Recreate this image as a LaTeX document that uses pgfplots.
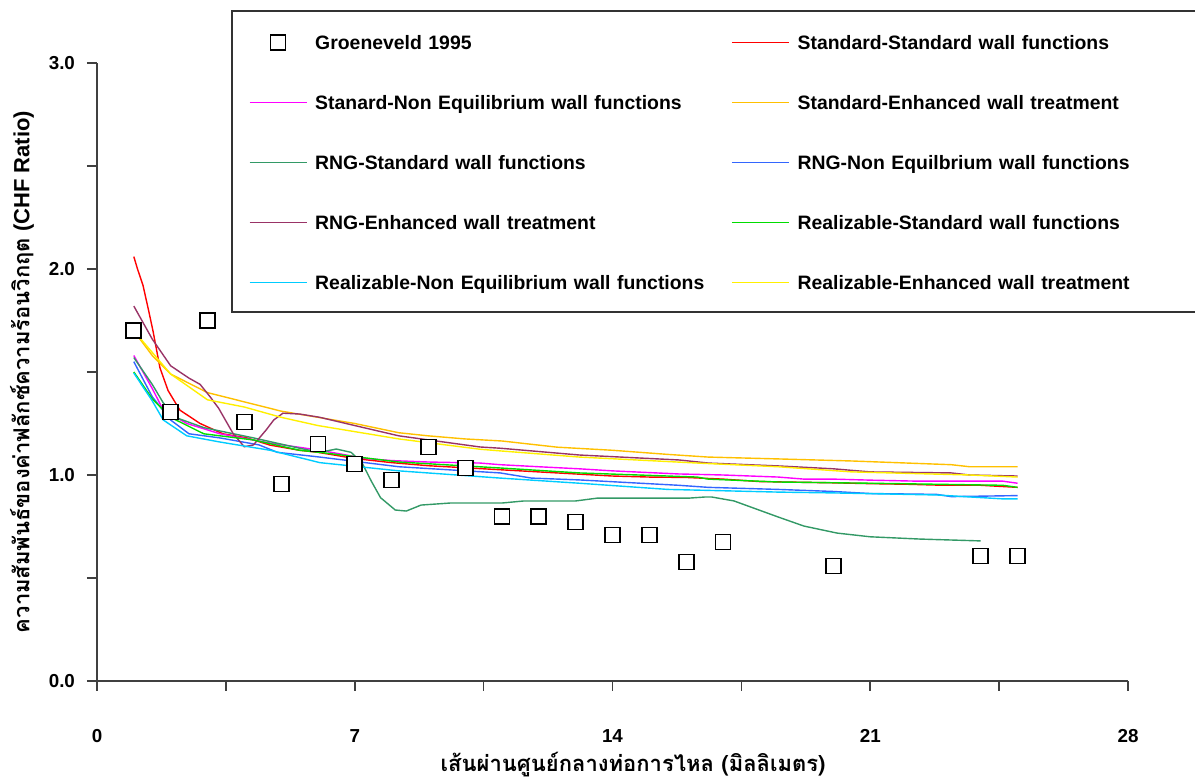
\documentclass[border=0pt]{standalone}
\usepackage{fontspec}
\setmainfont{Liberation Sans}
\newfontfamily\thaifont[Script=Thai]{Loma}
\usepackage{pgfplots}
\pgfplotsset{compat=1.18}

\definecolor{cStdStd}{HTML}{FF0000}
\definecolor{cStdNon}{HTML}{FF00FF}
\definecolor{cStdEnh}{HTML}{FFC000}
\definecolor{cRngStd}{HTML}{339966}
\definecolor{cRngNon}{HTML}{3366FF}
\definecolor{cRngEnh}{HTML}{993366}
\definecolor{cRlzStd}{HTML}{00DD00}
\definecolor{cRlzNon}{HTML}{00CCFF}
\definecolor{cRlzEnh}{HTML}{FFF000}

\begin{document}
\begin{tikzpicture}
\begin{axis}[
    at={(48.5pt,50pt)}, anchor=south west,
    scale only axis, width=515.5pt, height=309pt,
    xmin=0, xmax=28, ymin=0, ymax=3,
    axis lines=left,
    axis line style={-, black!75, line width=0.8pt},
    xtick={0,7,14,21,28}, ytick={0,1,2,3},
    minor xtick={3.5,10.5,17.5,24.5}, minor ytick={0.5,1.5,2.5},
    tick align=outside, major tick length=5pt, minor tick length=5pt,
    tick style={black!75, line width=0.8pt},
    /pgf/number format/assume math mode=true,
    tick label style={font=\bfseries\fontsize{9.4}{11}\selectfont},
    yticklabel style={/pgf/number format/fixed, /pgf/number format/fixed zerofill, /pgf/number format/precision=1, xshift=-2.5pt},
    xticklabel style={yshift=-15.75pt},
    xlabel={\thaifont\bfseries เส้นผ่านศูนย์กลางท่อการไหล (มิลลิเมตร)},
    xlabel style={at={(axis description cs:0.52,-0.136)}, anchor=center, font=\fontsize{11}{13}\selectfont},
    ylabel={{\thaifont\bfseries ความสัมพันธ์ของค่าฟลักซ์ความร้อนวิกฤต} \textbf{(CHF Ratio)}},
    ylabel style={at={(axis description cs:-0.0727,0.5)}, anchor=center, font=\fontsize{11}{13}\selectfont},
    legend columns=2,
    legend image code/.code={\draw[mark repeat=2,mark phase=2,#1] plot coordinates {(0pt,0pt) (14.25pt,0pt) (28.5pt,0pt)};},
    legend image post style={yshift=-0.5pt},
    legend style={at={(0.13,1.0858)}, anchor=north west,
        draw=black!80, line width=0.8pt, fill=white,
        inner xsep=8.5pt, inner ysep=8pt, row sep=15.5pt,
        font=\bfseries\fontsize{9.7}{11}\selectfont,
        nodes={inner sep=0pt, text width=205pt, align=left, text height=11.5pt, text depth=3pt},
        /tikz/every odd column/.append style={column sep=4pt},
        /tikz/every even column/.append style={column sep=3pt}},
    every axis plot/.append style={line width=0.7pt},
]

% legend entry for the measured points (points themselves drawn last, on top)
\addlegendimage{only marks, mark=square*, mark size=3.75pt, mark options={fill=white, draw=black, line width=0.9pt}}
\addlegendentry{Groeneveld 1995}

% Standard-Standard wall functions
\addplot[cStdStd, no marks] coordinates {
 (1,2.06) (1.1,2.0) (1.25,1.92) (1.4,1.80) (1.52,1.70) (1.71,1.52) (1.93,1.41) (2.25,1.315)
 (2.8,1.25) (3.42,1.20) (4.07,1.18) (4.7,1.145) (5.5,1.12) (6,1.11) (7,1.08) (8,1.06)
 (9,1.045) (10,1.035) (11,1.025) (12,1.015) (13,1.005) (14,0.995) (15,0.99) (16,0.988)
 (17,0.98) (18,0.968) (19,0.965) (20,0.962) (21,0.958) (22,0.955) (23,0.95) (24,0.95) (25,0.94)};
\addlegendentry{Standard-Standard wall functions}

% Stanard-Non Equilibrium wall functions
\addplot[cStdNon, no marks] coordinates {
 (1,1.58) (1.5,1.42) (1.8,1.315) (2.44,1.25) (2.8,1.23) (3.34,1.20) (4.7,1.155)
 (6.05,1.12) (7.3,1.08) (8,1.07) (9,1.063) (10.4,1.058) (10.95,1.05) (12,1.04)
 (13.1,1.03) (14,1.02) (15.8,1.005) (17,1.0) (18.5,0.99) (19.2,0.98) (20,0.98)
 (21,0.975) (22.3,0.97) (24.6,0.97) (25,0.96)};
\addlegendentry{Stanard-Non Equilibrium wall functions}

% Standard-Enhanced wall treatment
\addplot[cStdEnh, no marks] coordinates {
 (1,1.70) (1.5,1.58) (2,1.49) (3,1.40) (4,1.355) (5,1.31) (6,1.28) (7,1.25) (8.2,1.205)
 (9,1.19) (10,1.175) (11,1.165) (12.5,1.135) (14,1.12) (15.5,1.10) (16.6,1.087)
 (18.5,1.078) (20.5,1.068) (23.2,1.05) (23.7,1.04) (25,1.04)};
\addlegendentry{Standard-Enhanced wall treatment}

% RNG-Standard wall functions
\addplot[cRngStd, no marks] coordinates {
 (1,1.57) (1.5,1.44) (1.8,1.35) (2.17,1.277) (2.9,1.23) (4.25,1.18) (5.5,1.13)
 (6.05,1.11) (6.5,1.126) (6.9,1.11) (7.2,1.058) (7.45,0.97) (7.7,0.89) (8.1,0.83)
 (8.4,0.825) (8.8,0.854) (9.6,0.864) (11,0.864) (11.6,0.874) (13,0.874) (13.6,0.888)
 (16.1,0.888) (16.5,0.893) (16.7,0.893) (17.3,0.874) (18.5,0.796) (19.2,0.752)
 (20.1,0.718) (21,0.70) (22.35,0.689) (24,0.68)};
\addlegendentry{RNG-Standard wall functions}

% RNG-Non Equilbrium wall functions
\addplot[cRngNon, no marks] coordinates {
 (1,1.55) (1.5,1.38) (2,1.267) (2.5,1.20) (3.34,1.18) (4.4,1.146) (4.9,1.11)
 (6.05,1.087) (8.2,1.04) (10.95,1.01) (11.8,0.985) (13.1,0.976) (15.8,0.95)
 (16.6,0.94) (18.5,0.93) (20,0.92) (21,0.91) (22.8,0.906) (23.2,0.895) (25,0.90)};
\addlegendentry{RNG-Non Equilbrium wall functions}

% RNG-Enhanced wall treatment
\addplot[cRngEnh, no marks] coordinates {
 (1,1.82) (1.5,1.66) (2,1.53) (2.5,1.47) (2.8,1.44) (3.07,1.38) (3.3,1.325) (3.7,1.20)
 (4.0,1.137) (4.25,1.146) (4.6,1.22) (4.8,1.267) (5.05,1.30) (5.5,1.296) (6.05,1.28)
 (7,1.24) (8.2,1.19) (10.4,1.136) (10.95,1.13) (13.1,1.097) (15.8,1.073) (16.6,1.058)
 (18.5,1.044) (20,1.03) (21,1.015) (23.2,1.01) (23.7,1.0) (25,0.995)};
\addlegendentry{RNG-Enhanced wall treatment}

% Realizable-Standard wall functions
\addplot[cRlzStd, no marks] coordinates {
 (1,1.50) (1.5,1.37) (2,1.28) (2.9,1.20) (4.25,1.17) (5.5,1.12) (6.05,1.11)
 (8.2,1.063) (10.95,1.034) (13.1,1.01) (16.3,0.99) (16.6,0.98) (18.5,0.966)
 (21,0.96) (24.6,0.95) (25,0.94)};
\addlegendentry{Realizable-Standard wall functions}

% Realizable-Non Equilibrium wall functions
\addplot[cRlzNon, no marks] coordinates {
 (1,1.495) (1.5,1.36) (1.8,1.267) (2.44,1.19) (3.34,1.16) (4.7,1.12) (6.05,1.06)
 (8.2,1.02) (10.95,0.985) (13.1,0.96) (15.5,0.93) (18.5,0.917) (20,0.913)
 (22.8,0.903) (24.6,0.884) (25,0.884)};
\addlegendentry{Realizable-Non Equilibrium wall functions}

% Realizable-Enhanced wall treatment
\addplot[cRlzEnh, no marks] coordinates {
 (1,1.70) (2,1.49) (3,1.365) (4,1.33) (5,1.28) (6,1.24) (8.2,1.175) (10.4,1.125)
 (10.95,1.117) (13.1,1.087) (16.3,1.058) (18.5,1.04) (20.5,1.015) (23.7,1.0) (25,0.99)};
\addlegendentry{Realizable-Enhanced wall treatment}

% Groeneveld 1995 measured points
\addplot[only marks, mark=square*, mark size=3.75pt, mark options={fill=white, draw=black, line width=0.9pt}, forget plot] coordinates {
 (1,1.70) (2,1.306) (3,1.75) (4,1.257) (5,0.956) (6,1.15) (7,1.053) (8,0.976)
 (9,1.136) (10,1.034) (11,0.80) (12,0.80) (13,0.772) (14,0.709) (15,0.709)
 (16,0.578) (17,0.675) (20,0.558) (24,0.607) (25,0.607)};

\end{axis}
\pgfresetboundingbox
\useasboundingbox (0,0) rectangle (597.5pt,390.5pt);
\end{tikzpicture}
\end{document}
